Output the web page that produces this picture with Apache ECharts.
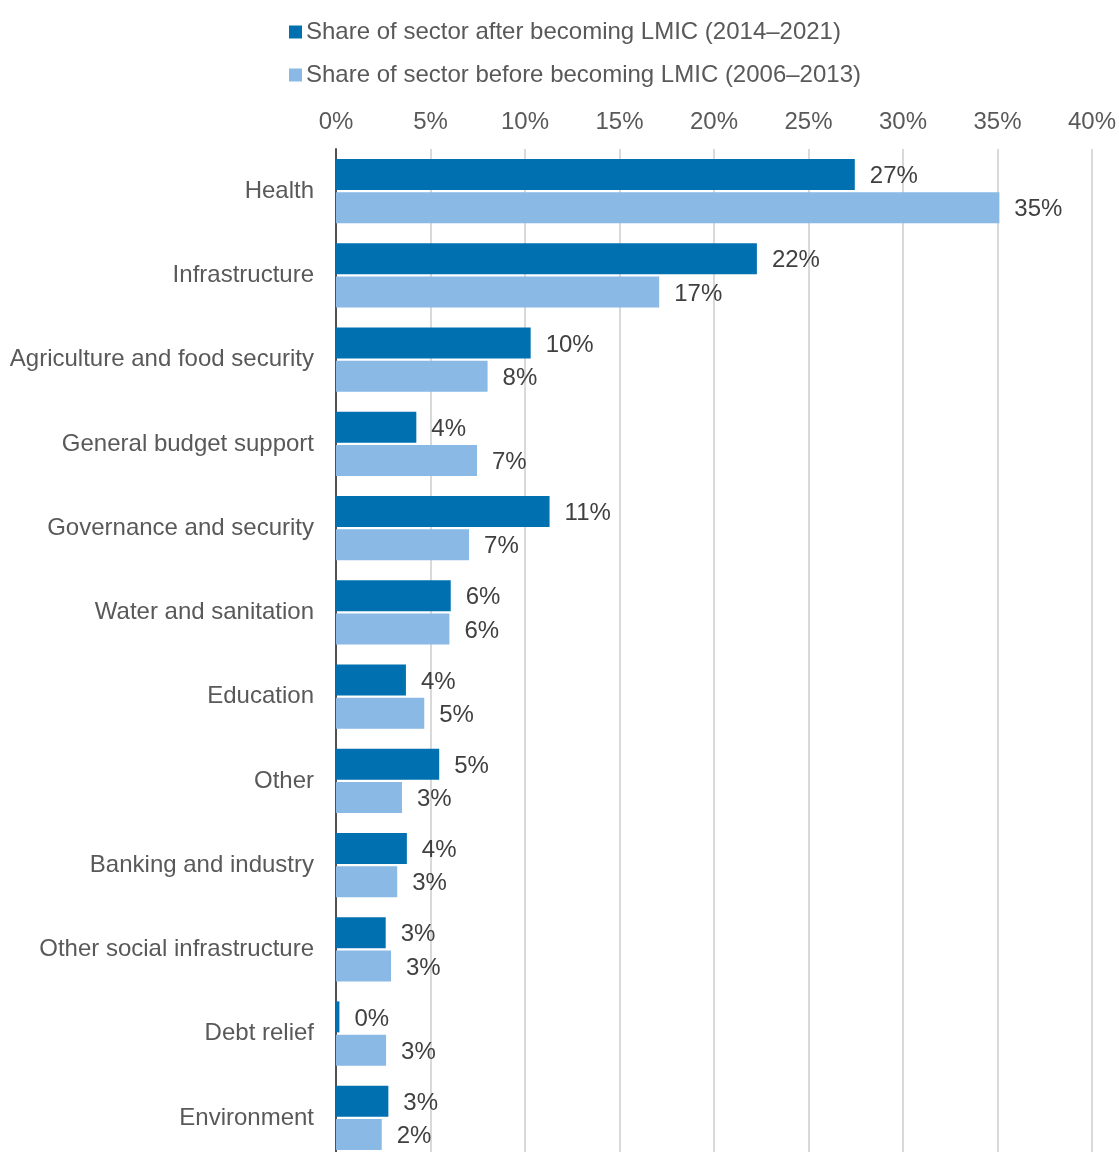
<!DOCTYPE html>
<html>
<head>
<meta charset="utf-8">
<script src="https://cdn.jsdelivr.net/npm/echarts@6/dist/echarts.min.js"></script>
<style>
html,body{margin:0;padding:0;background:#fff;overflow:hidden;width:1119px;height:1152px;}
#chart{width:1119px;height:1180px;}
</style>
</head>
<body>
<div id="chart"></div>
<script>
const categories = ["Health","Infrastructure","Agriculture and food security","General budget support","Governance and security","Water and sanitation","Education","Other","Banking and industry","Other social infrastructure","Debt relief","Environment"];
const afterValues = [27.45, 22.27, 10.3, 4.25, 11.3, 6.07, 3.7, 5.46, 3.75, 2.63, 0.18, 2.77];
const beforeValues = [35.1, 17.1, 8.02, 7.46, 7.04, 6.0, 4.67, 3.49, 3.24, 2.91, 2.65, 2.42];
const seriesNames = ["Share of sector after becoming LMIC (2014\u20132021)", "Share of sector before becoming LMIC (2006\u20132013)"];
const xTicks = {min: 0, max: 40, interval: 5};

const FONT = '"Liberation Sans", Arial, sans-serif';
const FS = 24;
const chart = echarts.init(document.getElementById('chart'), null, {renderer: 'canvas'});
const labelCfg = {
  show: true, position: 'right', distance: 15, offset: [0, 2],
  color: '#404040', fontSize: FS, fontFamily: FONT,
  formatter: p => Math.round(p.value) + '%'
};
chart.setOption({
  animation: false,
  backgroundColor: '#fff',
  legend: {
    orient: 'vertical', left: 289, top: 20, padding: 0,
    itemWidth: 13, itemHeight: 13, itemGap: 19,
    icon: 'rect',
    textStyle: {color: '#595959', fontSize: FS, fontFamily: FONT, lineHeight: 24, padding: [0, 0, 0, -1]},
    data: seriesNames
  },
  grid: {left: 336, top: 149, width: 758, height: 1011, containLabel: false},
  xAxis: {
    type: 'value', position: 'top',
    min: xTicks.min, max: xTicks.max, interval: xTicks.interval,
    axisLine: {show: false}, axisTick: {show: false},
    axisLabel: {formatter: '{value}%', color: '#595959', fontSize: FS, fontFamily: FONT, margin: 15},
    splitLine: {show: true, lineStyle: {color: '#d9d9d9', width: 2}}
  },
  yAxis: {
    type: 'category', inverse: true, data: categories,
    axisLine: {show: true, lineStyle: {color: '#505050', width: 2}},
    axisTick: {show: false},
    axisLabel: {color: '#595959', fontSize: FS, fontFamily: FONT, margin: 22, padding: [2, 0, 0, 0]}
  },
  series: [
    {name: seriesNames[0], type: 'bar', data: afterValues, barWidth: 31, barGap: '8%',
     itemStyle: {color: '#0070b0'}, label: labelCfg},
    {name: seriesNames[1], type: 'bar', data: beforeValues, barWidth: 31, barGap: '8%',
     itemStyle: {color: '#89b9e4'}, label: labelCfg}
  ]
});
</script>
</body>
</html>
